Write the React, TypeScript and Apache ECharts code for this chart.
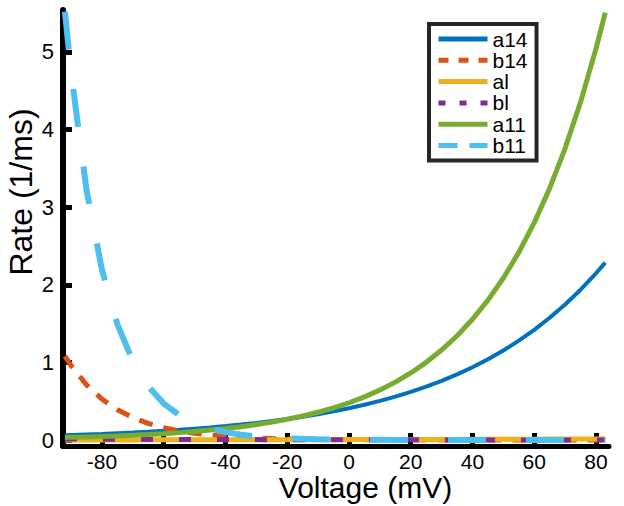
import React, { useEffect, useRef } from "react";
import * as echarts from "echarts";

const voltage = [-92, -90, -85, -80, -75, -70, -65, -60, -55, -50, -45, -40, -35, -30, -25, -20, -15, -10, -5, 0, 5, 10, 15, 20, 25, 30, 35, 40, 45, 50, 55, 60, 65, 70, 75, 80, 83];

const a14 = [0.061, 0.064, 0.071, 0.078, 0.087, 0.096, 0.107, 0.118, 0.131, 0.146, 0.161, 0.179, 0.199, 0.220, 0.244, 0.271, 0.300, 0.333, 0.370, 0.410, 0.455, 0.504, 0.559, 0.620, 0.688, 0.763, 0.846, 0.938, 1.041, 1.154, 1.280, 1.420, 1.575, 1.746, 1.937, 2.148, 2.285];
const b14 = [1.080, 0.958, 0.710, 0.526, 0.390, 0.289, 0.214, 0.159, 0.117, 0.087, 0.064, 0.048, 0.035, 0.026, 0.019, 0.014, 0.011, 0.008, 0.006, 0.004, 0.003, 0.002, 0.002, 0.001, 0.001, 0.001, 0.001, 0.001, 0, 0, 0, 0, 0, 0, 0, 0, 0];
const al = [0.001, 0.001, 0.001, 0.001, 0.001, 0.001, 0.002, 0.002, 0.002, 0.002, 0.002, 0.003, 0.003, 0.003, 0.003, 0.004, 0.004, 0.004, 0.005, 0.005, 0.005, 0.006, 0.006, 0.007, 0.007, 0.008, 0.008, 0.009, 0.009, 0.010, 0.011, 0.011, 0.012, 0.013, 0.013, 0.014, 0.015];
const bl = [0.012, 0.012, 0.011, 0.010, 0.010, 0.009, 0.008, 0.008, 0.007, 0.007, 0.006, 0.006, 0.005, 0.005, 0.004, 0.004, 0.004, 0.003, 0.003, 0.003, 0.002, 0.002, 0.002, 0.002, 0.002, 0.001, 0.001, 0.001, 0.001, 0.001, 0.001, 0.001, 0.001, 0.001, 0.001, 0.001, 0.001];
const a11 = [0.032, 0.034, 0.039, 0.046, 0.053, 0.061, 0.071, 0.082, 0.095, 0.110, 0.128, 0.148, 0.172, 0.199, 0.230, 0.267, 0.309, 0.358, 0.414, 0.480, 0.556, 0.644, 0.746, 0.864, 1.001, 1.160, 1.343, 1.556, 1.802, 2.088, 2.418, 2.801, 3.245, 3.759, 4.354, 5.043, 5.508];
const b11 = [5.52, 4.73, 3.22, 2.19, 1.49, 1.015, 0.690, 0.470, 0.320, 0.218, 0.148, 0.101, 0.068, 0.047, 0.032, 0.022, 0.015, 0.010, 0.007, 0.005, 0.003, 0.002, 0.001, 0.001, 0, 0, 0, 0, 0, 0, 0, 0, 0, 0, 0, 0, 0];

const xTicks = [-80, -60, -40, -20, 0, 20, 40, 60, 80];
const yTicks = [0, 1, 2, 3, 4, 5];

const seriesNames = ["a14", "b14", "al", "bl", "a11", "b11"];
const seriesValues = [a14, b14, al, bl, a11, b11];
const seriesColors = ["#0072BD", "#D95319", "#EDB120", "#7E2F8E", "#77AC30", "#4DBEEE"];
const seriesWidths = [4, 5, 5, 5, 5, 6];
const seriesDash: any[] = ["solid", [14, 11], "solid", [12, 26], "solid", [38, 40]];
const legendDash: any[] = ["solid", [10, 10], "solid", [7, 14], "solid", [19, 12]];

const FONT = "'Liberation Sans', Arial, Helvetica, sans-serif";
const INK = "#000000";

export default function App() {
  const ref = useRef<HTMLDivElement>(null);

  useEffect(() => {
    document.body.style.margin = "0";
    if (!ref.current) return;
    const chart = echarts.init(ref.current, null, { renderer: "svg" });

    const series = seriesNames.map((name, i) => ({
      name,
      type: "line",
      data: voltage.map((v, j) => [v, seriesValues[i][j]]),
      symbol: "none",
      showSymbol: false,
      smooth: false,
      clip: false,
      color: seriesColors[i],
      lineStyle: {
        color: seriesColors[i],
        width: seriesWidths[i],
        type: seriesDash[i],
        cap: "butt",
      },
    }));

    chart.setOption({
      animation: false,
      backgroundColor: "#ffffff",
      grid: { left: 63, right: 15, top: 10, bottom: 60, containLabel: false, outerBoundsMode: "none" },
      legend: {
        orient: "vertical",
        left: 429,
        top: 24,
        padding: [4.5, 9, 4.5, 7],
        itemWidth: 49,
        itemHeight: 14,
        itemGap: 0.3,
        borderColor: "#262626",
        borderWidth: 4,
        backgroundColor: "#ffffff",
        textStyle: { fontFamily: FONT, fontSize: 21, color: INK, lineHeight: 20 },
        data: seriesNames.map((name, i) => ({
          name,
          itemStyle: { opacity: 0, color: "transparent", borderWidth: 0 },
          lineStyle: { width: 5, type: legendDash[i], color: seriesColors[i], opacity: 1 },
        })),
      },
      xAxis: {
        type: "value",
        min: -92.63,
        max: 84.21,
        name: "Voltage (mV)",
        nameLocation: "middle",
        nameGap: 28,
        nameMoveOverlap: false,
        nameTextStyle: { fontFamily: FONT, fontSize: 30, lineHeight: 26, color: INK, padding: [0, 0, 0, 59] },
        axisLine: { show: true, onZero: false, lineStyle: { color: INK, width: 5 } },
        axisTick: { show: true, inside: true, length: 13, lineStyle: { color: INK, width: 5 }, customValues: xTicks },
        axisLabel: { fontFamily: FONT, fontSize: 21, lineHeight: 20, color: INK, margin: 5, customValues: xTicks },
        splitLine: { show: false },
      },
      yAxis: {
        type: "value",
        min: -0.0773,
        max: 5.541,
        name: "Rate (1/ms)",
        nameLocation: "middle",
        nameGap: 26,
        nameMoveOverlap: false,
        nameTextStyle: { fontFamily: FONT, fontSize: 32, color: INK, padding: [0, 0, 0, 72] },
        axisLine: { show: true, onZero: false, lineStyle: { color: INK, width: 6 } },
        axisTick: { show: true, inside: true, length: 9, lineStyle: { color: INK, width: 5 }, customValues: yTicks },
        axisLabel: { fontFamily: FONT, fontSize: 22, color: INK, margin: 9, customValues: yTicks },
        splitLine: { show: false },
      },
      series,
    });

    return () => chart.dispose();
  }, []);

  return <div ref={ref} style={{ width: 624, height: 506 }} />;
}
